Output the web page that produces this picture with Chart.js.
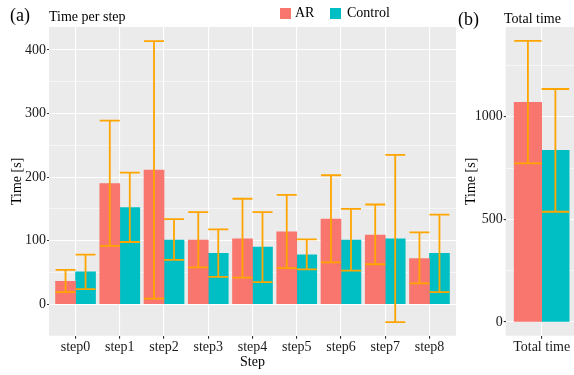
<!DOCTYPE html>
<html>
<head>
<meta charset="utf-8">
<script src="https://cdn.jsdelivr.net/npm/chart.js@4"></script>
<style>
  body { margin: 0; background: #fff; width: 574px; height: 375px; overflow: hidden; position: relative; font-family: "Liberation Serif", serif; }
  canvas { position: absolute; }
  .txt { position: absolute; white-space: nowrap; color: #000; line-height: 1; }
  .sw { position: absolute; width: 11px; height: 11px; }
</style>
</head>
<body>
<canvas id="stepChart" style="left:0;top:0" width="458" height="375"></canvas>
<canvas id="totalChart" style="left:458px;top:0" width="116" height="375"></canvas>

<div class="txt" style="left:10px;top:6px;font-size:18px">(a)</div>
<div class="txt" style="left:49px;top:10px;font-size:14px">Time per step</div>
<div class="sw" style="left:280px;top:8px;background:#F8766D"></div>
<div class="txt" style="left:295px;top:6px;font-size:14px">AR</div>
<div class="sw" style="left:330px;top:8px;background:#00BFC4"></div>
<div class="txt" style="left:347px;top:6px;font-size:14px">Control</div>
<div class="txt" style="left:458px;top:10px;font-size:18px">(b)</div>
<div class="txt" style="left:504px;top:12px;font-size:14px">Total time</div>

<script>
// data
const steps = ["step0", "step1", "step2", "step3", "step4", "step5", "step6", "step7", "step8"];
const arMean   = [36, 190, 211, 101, 103, 114, 134, 109, 72];
const arLow    = [19,  92,   9,  58,  42,  57,  66,  63, 33];
const arHigh   = [54, 289, 414, 145, 166, 172, 203, 157, 113];
const ctrlMean = [51, 152, 101,  80,  90,  78, 101, 103, 80];
const ctrlLow  = [24,  98,  70,  43,  35,  55,  53, -28, 19];
const ctrlHigh = [78, 207, 134, 118, 145, 102, 150, 235, 141];

const totalLabels = ["Total time"];
const totalAr     = [1070];
const totalArLow  = [773];
const totalArHigh = [1369];
const totalCtrl     = [836];
const totalCtrlLow  = [537];
const totalCtrlHigh = [1135];

const stepTicks = [0, 50, 100, 150, 200, 250, 300, 350, 400];
const totalTicks = [0, 250, 500, 750, 1000, 1250];

Chart.defaults.font.family = "'Liberation Serif', serif";
Chart.defaults.font.size = 14;
Chart.defaults.color = "#4D4D4D";
Chart.defaults.animation = false;

// grey panel background like ggplot
const panelBg = {
  id: "panelBg",
  beforeDraw(chart) {
    const a = chart.chartArea;
    const ctx = chart.ctx;
    ctx.save();
    ctx.fillStyle = "#EBEBEB";
    ctx.fillRect(a.left, a.top, a.right - a.left, a.bottom - a.top);
    ctx.restore();
  }
};

// error bars, drawn from each dataset's low/high arrays
const errorBars = {
  id: "errorBars",
  afterDatasetsDraw(chart) {
    const ctx = chart.ctx;
    const y = chart.scales.y;
    ctx.save();
    ctx.strokeStyle = "#FFA500";
    ctx.lineWidth = 1.8;
    chart.data.datasets.forEach((ds, di) => {
      const meta = chart.getDatasetMeta(di);
      meta.data.forEach((bar, i) => {
        const half = bar.width / 2;
        const top = y.getPixelForValue(ds.high[i]);
        const bot = y.getPixelForValue(ds.low[i]);
        ctx.beginPath();
        ctx.moveTo(bar.x, top); ctx.lineTo(bar.x, bot);
        ctx.moveTo(bar.x - half, top); ctx.lineTo(bar.x + half, top);
        ctx.moveTo(bar.x - half, bot); ctx.lineTo(bar.x + half, bot);
        ctx.stroke();
      });
    });
    ctx.restore();
  }
};

function makeChart(id, labels, ar, arL, arH, ct, ctL, ctH, opt) {
  const isMajor = (v) => v % opt.major === 0;
  return new Chart(id, {
    type: "bar",
    data: {
      datasets: [
        { label: "AR", data: ar.map((v, i) => ({ x: i, y: v })), low: arL, high: arH,
          backgroundColor: "#F8766D", barThickness: opt.barW },
        { label: "Control", data: ct.map((v, i) => ({ x: i, y: v })), low: ctL, high: ctH,
          backgroundColor: "#00BFC4", barThickness: opt.barW },
      ],
    },
    options: {
      responsive: false,
      layout: { padding: { top: 27, right: opt.padRight, bottom: 0, left: 0 } },
      plugins: { legend: { display: false }, tooltip: { enabled: false } },
      scales: {
        x: {
          type: "linear",
          offset: false,
          min: -0.6,
          max: opt.xMax,
          afterBuildTicks: (s) => { s.ticks = labels.map((_, i) => ({ value: i })); },
          afterFit: (s) => { s.height = 39.3; },
          ticks: { autoSkip: false, maxRotation: 0, padding: 0, color: "#1A1A1A",
                   callback: (v) => labels[Math.round(v)] },
          grid: { offset: false, color: "#FFFFFF", lineWidth: 1.1, tickLength: 3, tickColor: "#333333" },
          border: { display: false },
          title: { display: opt.xTitle !== "", text: opt.xTitle, color: "#000", padding: { top: 0, bottom: 4 } },
        },
        y: {
          min: opt.yMin,
          max: opt.yMax,
          afterBuildTicks: (s) => { s.ticks = opt.ticks.map((v) => ({ value: v })); },
          afterFit: (s) => { s.width = opt.yWidth; },
          ticks: { autoSkip: false, padding: 1, color: "#1A1A1A",
                   callback: (v) => (isMajor(v) ? v : "") },
          grid: {
            color: "#FFFFFF",
            lineWidth: (c) => (c.tick && isMajor(c.tick.value) ? 1.1 : 0.55),
            tickLength: 2,
            tickColor: (c) => (c.tick && isMajor(c.tick.value) ? "#333333" : "rgba(0,0,0,0)"),
          },
          border: { display: false },
          title: { display: true, text: "Time [s]", color: "#000", padding: { top: opt.yTitlePad, bottom: 0 } },
        },
      },
    },
    plugins: [panelBg, errorBars],
  });
}

makeChart("stepChart", steps, arMean, arLow, arHigh, ctrlMean, ctrlLow, ctrlHigh, {
  barW: 20, xMax: 8.6, padRight: 2, yMin: -49.4, yMax: 436.2, ticks: stepTicks, major: 100,
  yWidth: 49, yTitlePad: 8.6, xTitle: "Step",
});

makeChart("totalChart", totalLabels, totalAr, totalArLow, totalArHigh, totalCtrl, totalCtrlLow, totalCtrlHigh, {
  barW: 27.5, xMax: 0.54, padRight: 0, yMin: -66.7, yMax: 1437, ticks: totalTicks, major: 500,
  yWidth: 47.7, yTitlePad: 4.6, xTitle: "",
});
</script>
</body>
</html>
